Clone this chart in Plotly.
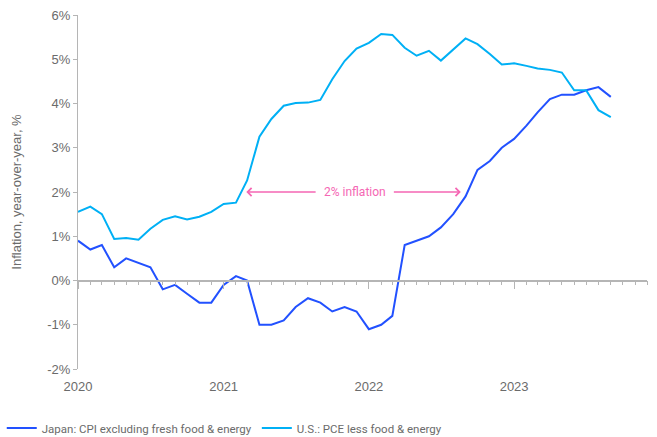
import plotly.graph_objects as go
import pandas as pd

months = pd.date_range("2020-01-01", "2023-09-01", freq="MS")

japan_core = [0.9, 0.7, 0.8, 0.3, 0.5, 0.4, 0.3, -0.2, -0.1, -0.3, -0.5, -0.5,
              -0.1, 0.1, 0.0, -1.0, -1.0, -0.9, -0.6, -0.4, -0.5, -0.7, -0.6, -0.7,
              -1.1, -1.0, -0.8, 0.8, 0.9, 1.0, 1.2, 1.5, 1.9, 2.5, 2.7, 3.0,
              3.2, 3.5, 3.8, 4.1, 4.2, 4.2, 4.3, 4.37, 4.15]

us_core_pce = [1.55, 1.67, 1.50, 0.94, 0.96, 0.92, 1.17, 1.37, 1.45, 1.38, 1.44, 1.55,
               1.73, 1.76, 2.26, 3.25, 3.65, 3.95, 4.01, 4.02, 4.08, 4.55, 4.96, 5.24,
               5.37, 5.57, 5.55, 5.26, 5.08, 5.19, 4.97, 5.22, 5.47, 5.34, 5.12, 4.88,
               4.91, 4.85, 4.79, 4.76, 4.70, 4.30, 4.30, 3.85, 3.69]

year_ticks = ["2020-01-01", "2021-01-01", "2022-01-01", "2023-01-01"]
year_labels = ["2020", "2021", "2022", "2023"]
y_ticks = [-2, -1, 0, 1, 2, 3, 4, 5, 6]
y_labels = [f"{v}%" for v in y_ticks]

JAPAN = "#2251ff"
US = "#00b0f5"
PINK = "#f567b4"
GREY = "#6b6b6b"
AXIS = "#b5b5b5"

fig = go.Figure()
fig.add_trace(go.Scatter(x=months, y=japan_core, mode="lines",
                         name="Japan: CPI excluding fresh food & energy",
                         line=dict(color=JAPAN, width=2)))
fig.add_trace(go.Scatter(x=months, y=us_core_pce, mode="lines",
                         name="U.S.: PCE less food & energy",
                         line=dict(color=US, width=2)))
# invisible trace carrying the zero-line axis
fig.add_trace(go.Scatter(x=[months[0]], y=[0], xaxis="x2", mode="lines",
                         showlegend=False, hoverinfo="skip",
                         line=dict(color="rgba(0,0,0,0)")))

x_range = ["2020-01-01", "2023-12-01"]
zero_pos = (0 - (-2)) / (6 - (-2))

fig.update_layout(
    width=657, height=437,
    margin=dict(l=78, r=10, t=15, b=68, autoexpand=False),
    paper_bgcolor="white", plot_bgcolor="white",
    font=dict(family="Liberation Sans, Arial", size=12, color=GREY),
    xaxis=dict(range=x_range, tickvals=year_ticks, ticktext=year_labels,
               showgrid=False, zeroline=False, showline=False, ticks="",
               automargin=False, ticklabelstandoff=8,
               tickfont=dict(size=13, color=GREY)),
    xaxis2=dict(range=x_range, overlaying="x", anchor="free", position=zero_pos,
                side="bottom", showgrid=False, zeroline=False, showline=True,
                automargin=False,
                linecolor=AXIS, linewidth=1.5, showticklabels=False,
                ticks="outside", tickmode="linear", tick0="2020-01-01", dtick="M12",
                ticklen=8, tickcolor=AXIS, tickwidth=1.2,
                minor=dict(ticks="outside", dtick="M1", tick0="2020-01-01",
                           ticklen=4, tickcolor=AXIS, tickwidth=1)),
    yaxis=dict(range=[-2, 6], tickvals=y_ticks, ticktext=y_labels,
               showgrid=False, zeroline=False, showline=True, linecolor=AXIS,
               automargin=False,
               linewidth=1.2, ticks="outside", ticklen=4, tickcolor=AXIS,
               tickfont=dict(size=13, color=GREY),
               title=dict(text="Inflation, year-over-year, %",
                          font=dict(size=13, color=GREY), standoff=22)),
    legend=dict(orientation="h", x=-0.134, xanchor="left", y=-0.167,
                yanchor="middle",
                font=dict(family="Roboto", size=11.5, color=GREY),
                itemwidth=30, tracegroupgap=0),
    showlegend=True,
)

label_x = "2021-11-28"
left_tail, left_head = "2021-08-24", "2021-02-27"
right_tail, right_head = "2022-03-01", "2022-08-20"

fig.add_annotation(x=label_x, y=2, text="2% inflation", showarrow=False,
                   font=dict(family="Roboto", size=12, color=PINK))
fig.add_annotation(x=left_head, y=2, ax=left_tail, ay=2, axref="x", ayref="y",
                   text="", showarrow=True, arrowhead=4, arrowsize=1.2,
                   arrowwidth=1.3, arrowcolor=PINK)
fig.add_annotation(x=right_head, y=2, ax=right_tail, ay=2, axref="x", ayref="y",
                   text="", showarrow=True, arrowhead=4, arrowsize=1.2,
                   arrowwidth=1.3, arrowcolor=PINK)

fig.write_html("out.html", config={"displayModeBar": False},
               post_script="document.body.style.margin='0';document.body.style.overflow='hidden';")
